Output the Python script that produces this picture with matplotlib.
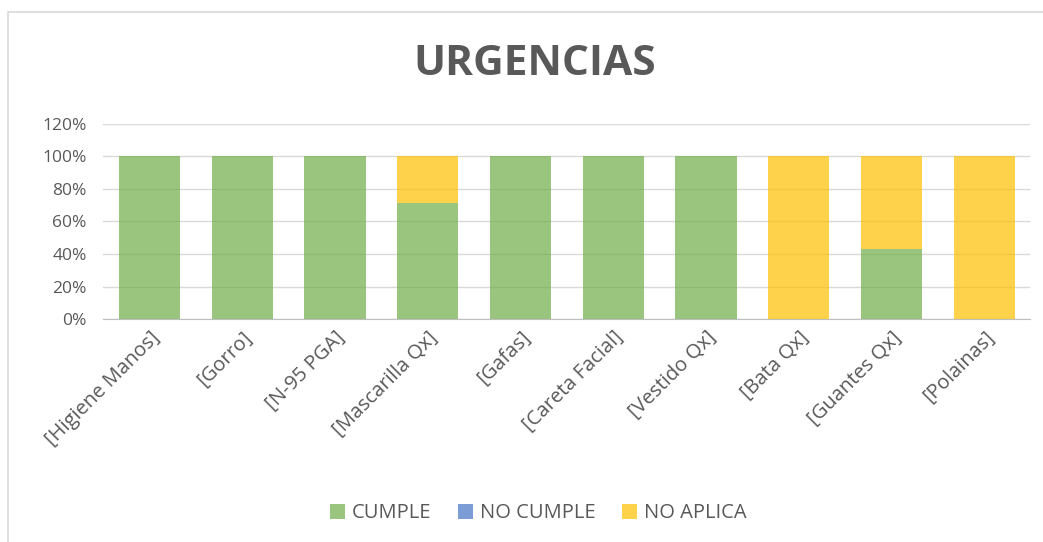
import matplotlib.pyplot as plt
import matplotlib.patches as mpatches
import numpy as np

categorias = ['[Higiene Manos]', '[Gorro]', '[N-95 PGA]', '[Mascarilla Qx]', '[Gafas]',
              '[Careta Facial]', '[Vestido Qx]', '[Bata Qx]', '[Guantes Qx]', '[Polainas]']
cumple = [1.0, 1.0, 1.0, 0.714, 1.0, 1.0, 1.0, 0.0, 0.429, 0.0]
no_cumple = [0, 0, 0, 0, 0, 0, 0, 0, 0, 0]
no_aplica = [0.0, 0.0, 0.0, 0.286, 0.0, 0.0, 0.0, 1.0, 0.571, 1.0]
y_ticks = [0, 0.2, 0.4, 0.6, 0.8, 1.0, 1.2]

plt.rcParams['font.family'] = ['Open Sans', 'DejaVu Sans']
gris = '#595959'

fig = plt.figure(figsize=(10.43, 5.42), dpi=100)
ax = fig.add_axes([0.099, 0.4114, 0.889, 0.36])

x = np.arange(len(categorias))
w = 0.66
c1 = np.array(cumple)
c2 = np.array(no_cumple)
c3 = np.array(no_aplica)
ax.bar(x, c1, w, color='#70AD47', alpha=0.7, label='CUMPLE', zorder=3)
ax.bar(x, c2, w, bottom=c1, color='#4472C4', alpha=0.7, label='NO CUMPLE', zorder=3)
ax.bar(x, c3, w, bottom=c1 + c2, color='#FFC000', alpha=0.7, label='NO APLICA', zorder=3)

ax.set_xlim(-0.5, len(categorias) - 0.5)
ax.set_ylim(0, 1.2)
ax.set_yticks(y_ticks)
ax.set_yticklabels([f'{int(round(v * 100))}%' for v in y_ticks])
ax.yaxis.grid(True, color='#d9d9d9', linewidth=1, zorder=0)
ax.set_axisbelow(True)
for s in ['top', 'left', 'right']:
    ax.spines[s].set_visible(False)
ax.spines['bottom'].set_color('#bfbfbf')
ax.tick_params(axis='both', length=0, labelsize=12.5, labelcolor=gris)
ax.tick_params(axis='y', pad=12)
ax.tick_params(axis='x', labelsize=14.5, pad=6)
ax.set_xticks(x)
ax.set_xticklabels(categorias, rotation=45, ha='right', rotation_mode='anchor')

fig.text(0.5125, 0.881, 'URGENCIAS', ha='center', va='center', fontsize=30.5,
         fontweight='bold', color=gris)

fig.legend(loc='center', bbox_to_anchor=(0.516, 0.053), ncol=3, frameon=False,
           fontsize=14.5, labelcolor=gris, handlelength=0.75, handleheight=0.75,
           columnspacing=1.3, handletextpad=0.35)

fig.patches.append(mpatches.Rectangle((8 / 1043, -0.1), 1.2, 1 - 12 / 542 + 0.1,
                                      transform=fig.transFigure, fill=False,
                                      edgecolor='#d9d9d9', linewidth=1.2))

fig.savefig('out.png', dpi=100)
